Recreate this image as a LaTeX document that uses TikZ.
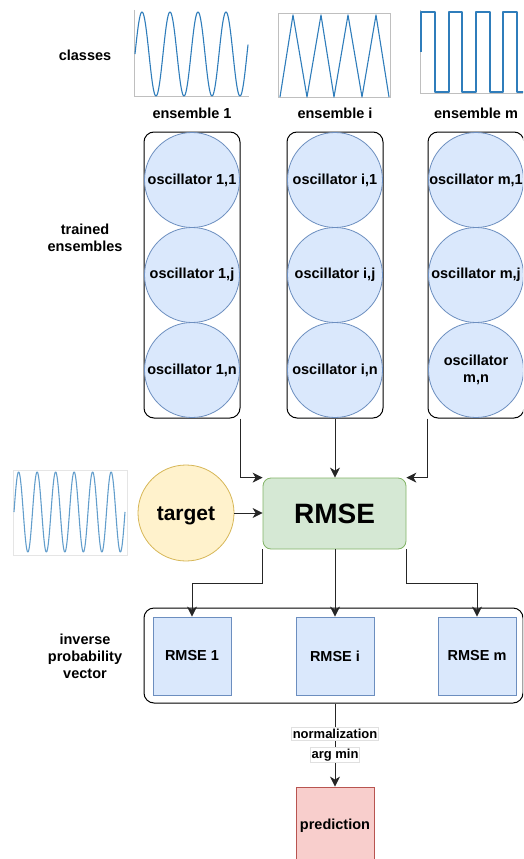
\documentclass[tikz,border=0pt]{standalone}
\usepackage{fontspec}
\setmainfont{Liberation Sans}
\usetikzlibrary{arrows.meta}

\definecolor{oscfill}{HTML}{DAE8FC}
\definecolor{oscline}{HTML}{6C8EBF}
\definecolor{rmsefill}{HTML}{D5E8D4}
\definecolor{rmseline}{HTML}{82B366}
\definecolor{tgtfill}{HTML}{FFF2CC}
\definecolor{tgtline}{HTML}{D6B656}
\definecolor{predfill}{HTML}{F8CECC}
\definecolor{predline}{HTML}{B85450}
\definecolor{curve}{HTML}{2F7DBB}

\tikzset{
  txt/.style={font=\fontsize{14.5}{17}\selectfont\bfseries, align=center},
  ensbox/.style={draw=black, line width=1pt, rounded corners=10pt, minimum width=96pt, minimum height=286pt, inner sep=0pt},
  osc/.style={circle, draw=oscline, line width=0.8pt, fill=oscfill, minimum size=95pt, inner sep=0pt, txt},
  errbox/.style={draw=oscline, line width=0.8pt, fill=oscfill, minimum width=78pt, minimum height=78pt, inner sep=0pt, txt},
  arr/.style={draw=black!85, line width=1pt, -{Stealth[length=10pt,width=10pt,inset=3pt]}},
  lbl/.style={txt, fill=white, draw=black!12, inner sep=1.5pt, font=\fontsize{13}{15}\selectfont\bfseries},
  plotline/.style={curve, line width=1.1pt, line join=round},
  axis/.style={black!25, line width=0.8pt}
}

\begin{document}
\begin{tikzpicture}[x=1pt,y=-1pt]
	\useasboundingbox (0,0) rectangle (523,859);
	\clip (0,0) rectangle (523,859);

	\draw[axis](134,10)--(134,96)--(249,96);
	\draw[plotline] plot[domain=135:248,samples=200] (\x,{54-42*sin((\x-135)*12.857)});
	\draw[axis](278,13) rectangle (390,97);
	\draw[plotline](280,97)--(293,15)--(307,97)--(321,15)--(334,97)--(348,15)--(362,97)--(376,15)--(389,97);
	\draw[axis](420,10)--(420,93)--(523,93);
	\draw[plotline](421,52)--(421,12)--(435,12)--(435,92)--(449,92)--(449,12)--(462,12)--(462,92)--(476,92)--(476,12)--(490,12)--(490,92)--(503,92)--(503,12)--(517,12)--(517,92)--(524,92);

	\node[txt] (classes) at (85,55) {classes};
	\node[txt] (trained) at (85,238) {trained\\ensembles};
	\node[txt] (invvec) at (85,656) {inverse\\probability\\vector};

	\node[txt] (t1) at (192,113) {ensemble 1};
	\node[txt] (ti) at (335,113) {ensemble i};
	\node[txt] (tm) at (476,113) {ensemble m};

	\node[ensbox] (e1) at (192,275) {};
	\node[ensbox] (ei) at (335,275) {};
	\node[ensbox] (em) at (476,275) {};

	\node[osc] (o11) at (192,180) {oscillator 1,1};
	\node[osc] (o1j) at (192,275) {oscillator 1,j};
	\node[osc] (o1n) at (192,370) {oscillator 1,n};
	\node[osc] (oi1) at (335,180) {oscillator i,1};
	\node[osc] (oij) at (335,275) {oscillator i,j};
	\node[osc] (oin) at (335,370) {oscillator i,n};
	\node[osc] (om1) at (476,180) {oscillator m,1};
	\node[osc] (omj) at (476,275) {oscillator m,j};
	\node[osc] (omn) at (476,370) {oscillator\\m,n};

	\draw[axis, black!10](13,470) rectangle (127,555);
	\draw[plotline, curve!75] plot[domain=14:125,samples=300] (\x,{512-40*sin((\x-14)*19.46)});

	\node[circle, draw=tgtline, line width=0.8pt, fill=tgtfill, minimum size=96pt, inner sep=0pt, text height=15pt, text depth=0pt, font=\fontsize{21}{24}\selectfont\bfseries] (target) at (186,513) {target};
	\node[draw=rmseline, line width=0.8pt, fill=rmsefill, rounded corners=8pt, minimum width=143pt, minimum height=71pt, inner sep=0pt, font=\fontsize{28}{32}\selectfont\bfseries] (rmse) at (334.5,513.5) {RMSE};

	\draw[arr](e1.south east)|-(rmse.north west);
	\draw[arr](ei.south)--(rmse.north -| ei.south);
	\draw[arr](em.south west)|-(rmse.north east);
	\draw[arr](target)--(rmse.west |- target);

	\node[draw=black, line width=1pt, rounded corners=10pt, minimum width=379pt, minimum height=95pt, inner sep=0pt] (vec) at (333.5,655.5) {};
	\node[errbox] (r1) at (192,656) {RMSE 1};
	\node[errbox] (ri) at (335,656) {RMSE i};
	\node[errbox] (rm) at (477,656) {RMSE m};

	\draw[arr](rmse.south west)--++(0,34)-|(r1.north);
	\draw[arr](rmse.south -| ri.north)--(ri.north);
	\draw[arr](rmse.south east)--++(0,34)-|(rm.north);

	\node[draw=predline, line width=0.8pt, fill=predfill, minimum width=78pt, minimum height=78pt, inner sep=0pt, txt] (pred) at (335,826) {prediction};
	\draw[arr](vec.south -| pred.north)--(pred.north)
		node[lbl, pos=0.37] {normalization}
		node[lbl, pos=0.62] {arg min};
\end{tikzpicture}
\end{document}
